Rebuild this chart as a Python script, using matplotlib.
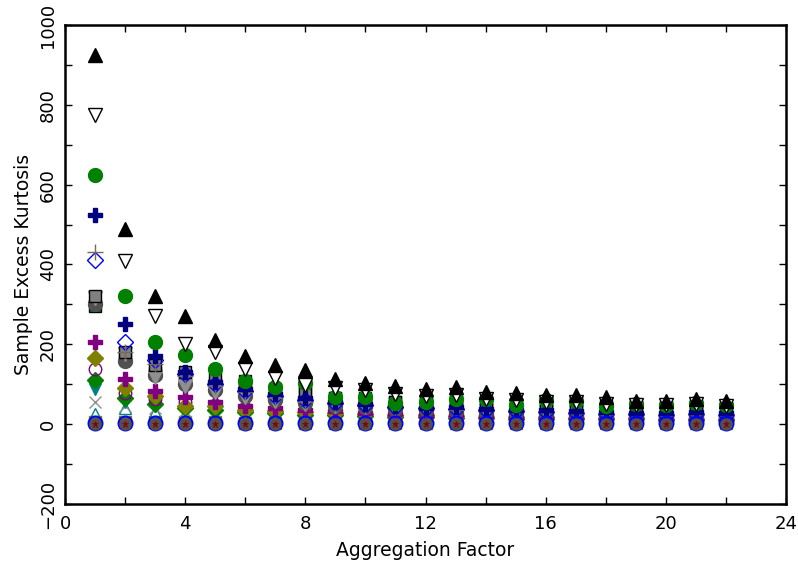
import matplotlib
matplotlib.use("Agg")
import matplotlib.pyplot as plt
from matplotlib.ticker import MultipleLocator

plt.rcParams['font.family'] = ['DejaVu Sans']

# aggregation factors 1..22
factors = list(range(1, 23))

# sample excess kurtosis per series
k_tri_black = [925, 490, 320, 272, 212, 170, 147, 135, 112, 102, 95, 87, 92, 80, 77, 72, 72, 67, 57, 57, 62, 58]
k_tri_open = [775, 408, 272, 200, 180, 137, 115, 98, 90, 85, 75, 70, 72, 62, 60, 55, 55, 50, 48, 47, 50, 45]
k_green_sq = [295, 165, 128, 112, 100, 95, 85, 80, 66, 66, 56, 56, 58, 55, 50, 55, 55, 45, 45, 42, 40, 40]
k_green_circ = [625, 320, 205, 172, 137, 107, 92, 102, 67, 68, 52, 55, 62, 62, 47, 60, 57, 46, 50, 47, 52, 47]
k_navy_plus = [525, 250, 170, 130, 105, 87, 75, 65, 55, 50, 45, 40, 42, 38, 35, 35, 33, 30, 28, 28, 30, 28]
k_thin_plus = [432, 180, 150, 120, 95, 80, 65, 55, 50, 45, 40, 38, 36, 33, 30, 30, 28, 26, 25, 24, 25, 23]
k_blue_diam = [412, 205, 160, 125, 100, 82, 70, 60, 52, 47, 42, 40, 38, 35, 32, 30, 28, 26, 25, 24, 25, 24]
k_gray_v = [315, 175, 118, 95, 80, 67, 57, 50, 45, 42, 38, 36, 35, 33, 32, 30, 30, 28, 27, 26, 26, 25]
k_gray_sq = [322, 182, 147, 130, 117, 107, 87, 80, 65, 62, 55, 52, 50, 50, 45, 45, 42, 42, 40, 40, 40, 38]
k_dgray_circ = [302, 157, 122, 100, 85, 70, 60, 52, 45, 42, 38, 35, 33, 30, 28, 27, 25, 24, 23, 22, 22, 21]
k_purple_plus = [205, 112, 82, 68, 55, 45, 40, 35, 32, 28, 25, 24, 22, 20, 19, 18, 17, 16, 15, 15, 15, 14]
k_olive_diam = [165, 90, 70, 45, 45, 35, 32, 30, 28, 25, 23, 22, 20, 19, 18, 17, 16, 15, 15, 14, 14, 13]
k_purple_circ = [137, 78, 62, 55, 48, 40, 35, 30, 27, 25, 22, 20, 19, 18, 17, 16, 15, 14, 14, 13, 13, 12]
k_green_diam = [110, 65, 50, 40, 35, 30, 27, 24, 22, 20, 18, 17, 16, 15, 14, 13, 13, 12, 12, 11, 11, 11]
k_teal_v = [87, 55, 45, 37, 32, 28, 24, 22, 20, 18, 17, 16, 15, 14, 13, 13, 12, 12, 11, 11, 11, 10]
k_gray_x = [55, 45, 40, 32, 28, 24, 20, 18, 16, 15, 14, 13, 12, 11, 11, 10, 10, 9, 9, 9, 8, 8]
k_teal_tri = [25, 40, 30, 25, 20, 18, 15, 13, 12, 11, 10, 10, 9, 9, 8, 8, 8, 7, 7, 7, 7, 6]
k_olive_sq = [6, 6, 5, 5, 5, 4, 4, 4, 4, 4, 3, 3, 3, 3, 3, 3, 3, 3, 3, 3, 3, 3]
k_blue_circ = [2, 2, 2, 2, 2, 2, 2, 2, 2, 2, 2, 2, 2, 2, 2, 2, 2, 2, 2, 2, 2, 2]
k_dgray_small = [1, 1, 1, 1, 1, 1, 1, 1, 1, 1, 1, 1, 1, 1, 1, 1, 1, 1, 1, 1, 1, 1]
k_red_star = [0, 0, 0, 0, 0, 0, 0, 0, 0, 0, 0, 0, 0, 0, 0, 0, 0, 0, 0, 0, 0, 0]

# (values, marker, face, edge, size, edge width) drawn bottom to top
series = [
    (k_olive_sq, 's', '#808000', '#808000', 9, 1),
    (k_teal_tri, '^', 'none', '#008080', 9, 1),
    (k_gray_x, 'x', 'none', '#909090', 9, 1),
    (k_teal_v, 'v', '#008080', '#008080', 9, 1),
    (k_green_diam, 'D', '#008000', '#008000', 8, 1),
    (k_purple_circ, 'o', 'none', '#800080', 9, 1),
    (k_olive_diam, 'D', '#808000', '#808000', 8, 1),
    (k_purple_plus, 'P', '#800080', '#800080', 10, 1),
    (k_green_sq, 's', '#008000', 'black', 9, 1),
    (k_dgray_circ, 'o', '#505050', '#505050', 10, 1),
    (k_gray_v, 'v', '#909090', '#909090', 10, 1),
    (k_gray_sq, 's', '#808080', 'black', 9, 1),
    (k_blue_diam, 'D', 'none', '#0000ff', 8, 1),
    (k_thin_plus, '+', 'none', '#7a6a5a', 11, 1),
    (k_navy_plus, 'P', '#000080', '#000080', 10, 1),
    (k_green_circ, 'o', '#008000', '#008000', 10, 1),
    (k_tri_open, 'v', 'white', 'black', 10, 1),
    (k_tri_black, '^', 'black', 'black', 10, 1),
    (k_blue_circ, 'o', 'none', '#0000ff', 10, 1.5),
    (k_dgray_small, 'o', '#505050', '#505050', 8, 1),
    (k_red_star, '*', '#8b0000', '#8b0000', 5, 0.5),
]

fig = plt.figure(figsize=(7.98, 5.68), dpi=100)
ax = fig.add_axes([0.0815, 0.1127, 0.9035, 0.8433])

for vals, mk, fc, ec, ms, mew in series:
    ax.plot(factors, vals, linestyle='none', marker=mk, markerfacecolor=fc,
            markeredgecolor=ec, markersize=ms, markeredgewidth=mew)

ax.set_xlim(0, 24)
ax.set_ylim(-200, 1000)
ax.xaxis.set_major_locator(MultipleLocator(4))
ax.xaxis.set_minor_locator(MultipleLocator(2))
ax.yaxis.set_major_locator(MultipleLocator(200))
ax.yaxis.set_minor_locator(MultipleLocator(100))
ax.tick_params(which='both', direction='in', top=True, right=True, length=5,
               width=1, labelsize=13)
ax.tick_params(axis='x', pad=8)
ax.tick_params(axis='y', pad=6)
for lab in ax.get_yticklabels():
    lab.set_rotation(90)
    lab.set_va('center')
for sp in ax.spines.values():
    sp.set_linewidth(1.8)

ax.set_xlabel("Aggregation Factor", fontsize=13.5, labelpad=6)
ax.set_ylabel("Sample Excess Kurtosis", fontsize=13.5, labelpad=4)

fig.savefig("out.png", dpi=100)
